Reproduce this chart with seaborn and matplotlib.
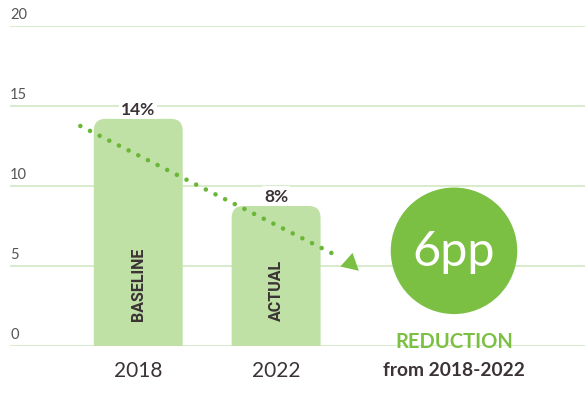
import matplotlib
matplotlib.use("Agg")
import matplotlib.pyplot as plt
import matplotlib.transforms as mtransforms
from matplotlib.patches import FancyBboxPatch
import seaborn as sns
import pandas as pd

# ---- data ----
years = ["2018", "2022"]
values = [14.2, 8.75]
pct_labels = ["14%", "8%"]
bar_names = ["BASELINE", "ACTUAL"]
y_ticks = [0, 5, 10, 15, 20]
trend_x = [-0.42, 1.45]
trend_y = [13.75, 5.6]
reduction_text = "6pp"
reduction_label = "REDUCTION"
reduction_sub = "from 2018-2022"

sns.set_theme(style="white")
plt.rcParams["font.family"] = ["Lato", "DejaVu Sans"]

BAR = "#bfe1a5"
GREEN = "#7bc043"
DOT = "#6ab636"
GRID = "#cde6bd"
DARK = "#3b3335"

W, H = 585, 402
fig = plt.figure(figsize=(W / 100, H / 100), dpi=100)
ax = fig.add_axes([10 / W, (H - 347) / H, 575 / W, 320 / H])

df = pd.DataFrame({"year": years, "value": values})
sns.barplot(data=df, x="year", y="value", color=BAR, width=0.645,
            saturation=1, ax=ax, zorder=2)

ax.set_xlim(-0.93, 3.24)
ax.set_ylim(0, 20)

# replace bars by rounded-top bars
for p in list(ax.patches):
    x0, w, h = p.get_x(), p.get_width(), p.get_height()
    p.set_visible(False)
    fb = FancyBboxPatch((x0, -2), w, h + 2,
                        boxstyle="round,pad=0,rounding_size=0.087",
                        mutation_aspect=8.6, facecolor=BAR, edgecolor="none",
                        zorder=2)
    ax.add_patch(fb)

# gridlines
blend = mtransforms.blended_transform_factory(ax.transAxes, ax.transData)
for t in y_ticks:
    ax.axhline(t, color=GRID, lw=1.1, zorder=0)
    ax.text(0.0, t + 0.75, str(t), transform=blend,
            ha="left", va="center", fontsize=10.5, color="#555555")

# labels
for i, (v, lab, name) in enumerate(zip(values, pct_labels, bar_names)):
    ax.text(i, v + 0.1, lab, ha="center", va="bottom", fontsize=12.5,
            fontweight="bold", color=DARK, zorder=4,
            bbox=dict(facecolor="white", edgecolor="none", pad=1.5))
    ax.text(i, 1.6, name, rotation=90, ha="center", va="bottom",
            fontsize=11.5, fontweight="bold", color=DARK, zorder=4,
            family=["Roboto", "DejaVu Sans"])

# dotted trend line
ax.plot(trend_x, trend_y, color=DOT, lw=3.3, linestyle=(0, (0.01, 2.35)),
        dash_capstyle="round", zorder=3)
tip = (trend_x[1] + 0.15, trend_y[1] - 0.9)
ax.annotate("", xy=tip, xytext=(trend_x[1] + 0.02, trend_y[1] + 0.1),
            arrowprops=dict(arrowstyle="-|>,head_length=1.0,head_width=0.55",
                            color=GREEN, lw=0, shrinkA=0, shrinkB=0), zorder=3)

# reduction circle
cx, cy = 2.29, 5.95
ax.scatter([cx], [cy], s=8300, color=GREEN, zorder=3, edgecolors="none")
ax.text(cx, cy, reduction_text, ha="center", va="center", fontsize=35,
        color="white", zorder=4)
ax.text(cx, 0.3, reduction_label, ha="center", va="center", fontsize=14.5,
        fontweight="bold", color=GREEN, zorder=4)
ax.text(cx, -1.45, reduction_sub, ha="center", va="center", fontsize=13.8,
        fontweight="bold", color=DARK, zorder=4, clip_on=False)

ax.set_xlabel("")
ax.set_ylabel("")
ax.set_yticks([])
ax.tick_params(axis="x", length=0, pad=10, labelsize=15, labelcolor=DARK)
for s in ax.spines.values():
    s.set_visible(False)

fig.savefig("out.png", dpi=100)
